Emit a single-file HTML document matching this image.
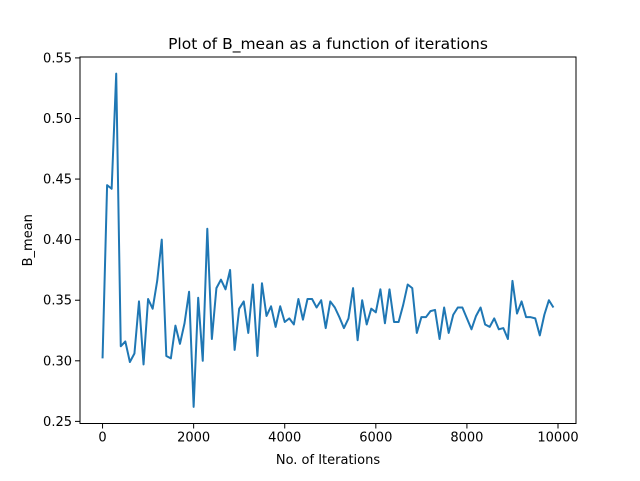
<!DOCTYPE html>
<html><head><meta charset="utf-8"><style>
body{margin:0;background:#fff}
svg text{font-family:"DejaVu Sans","Liberation Sans",sans-serif;fill:#000}
</style></head><body>
<svg id="chart" width="640" height="476" xmlns="http://www.w3.org/2000/svg"></svg>
<script>
const iterations = [];
for (let i = 0; i < 100; i++) iterations.push(i * 100);
const bMean = [0.302,0.445,0.442,0.537,0.312,0.316,0.299,0.306,0.349,0.297,
0.351,0.343,0.366,0.400,0.304,0.302,0.329,0.314,0.331,0.357,
0.262,0.352,0.300,0.409,0.318,0.360,0.367,0.359,0.375,0.309,
0.343,0.349,0.323,0.363,0.304,0.364,0.337,0.345,0.328,0.345,
0.332,0.335,0.330,0.351,0.334,0.351,0.351,0.344,0.350,0.327,
0.349,0.344,0.336,0.327,0.335,0.360,0.317,0.350,0.330,0.343,
0.340,0.359,0.331,0.359,0.332,0.332,0.346,0.363,0.360,0.323,
0.336,0.336,0.341,0.342,0.318,0.344,0.323,0.338,0.344,0.344,
0.335,0.326,0.337,0.344,0.330,0.328,0.335,0.326,0.327,0.318,
0.366,0.339,0.349,0.336,0.336,0.335,0.321,0.338,0.350,0.344];
const xTicks = [0,2000,4000,6000,8000,10000];
const yTicks = [0.25,0.30,0.35,0.40,0.45,0.50,0.55];
const yTickLabels = ["0.25","0.30","0.35","0.40","0.45","0.50","0.55"];

const NS="http://www.w3.org/2000/svg", svg=document.getElementById('chart');
const L=80,R=576,T=57,B=423.5;
const xmin=Math.min(...iterations),xmax=Math.max(...iterations),xm=(xmax-xmin)*0.05;
const ymin=Math.min(...bMean),ymax=Math.max(...bMean),ym=(ymax-ymin)*0.05;
const X=v=>L+(v-(xmin-xm))/((xmax+xm)-(xmin-xm))*(R-L);
const Y=v=>B-(v-(ymin-ym))/((ymax+ym)-(ymin-ym))*(B-T);
function mk(t,a,txt){const e=document.createElementNS(NS,t);for(const k in a)e.setAttribute(k,a[k]);if(txt!==undefined)e.textContent=txt;svg.appendChild(e);return e;}

const line=mk('polyline',{points:iterations.map((v,i)=>X(v).toFixed(2)+','+Y(bMean[i]).toFixed(2)).join(' '),fill:'none',stroke:'#1f77b4','stroke-width':2,'stroke-linejoin':'round'});



const frame=mk('rect',{x:L,y:T,width:R-L,height:B-T,fill:'none',stroke:'#000','stroke-width':1});



xTicks.forEach(v=>{
  const tk=mk('line',{x1:X(v),x2:X(v),y1:B,y2:B+5,stroke:'#000','stroke-width':1});
  
  
  const t=mk('text',{x:X(v),y:B+18,'text-anchor':'middle','font-size':13},String(v));
  
  
});
yTicks.forEach((v,i)=>{
  const tk=mk('line',{x1:L-5,x2:L,y1:Y(v),y2:Y(v),stroke:'#000','stroke-width':1});
  
  
  const t=mk('text',{x:L-8,y:Y(v)+4.5,'text-anchor':'end','font-size':13},yTickLabels[i]);
  
  
});
const title=mk('text',{x:(L+R)/2,y:49,'text-anchor':'middle','font-size':15.5},'Plot of B_mean as a function of iterations');


const xl=mk('text',{x:(L+R)/2,y:464,'text-anchor':'middle','font-size':13},'No. of Iterations');


const yl=mk('text',{x:0,y:0,'text-anchor':'middle','font-size':13,transform:'translate(32,'+((T+B)/2)+') rotate(-90)'},'B_mean');


</script>
</body></html>
